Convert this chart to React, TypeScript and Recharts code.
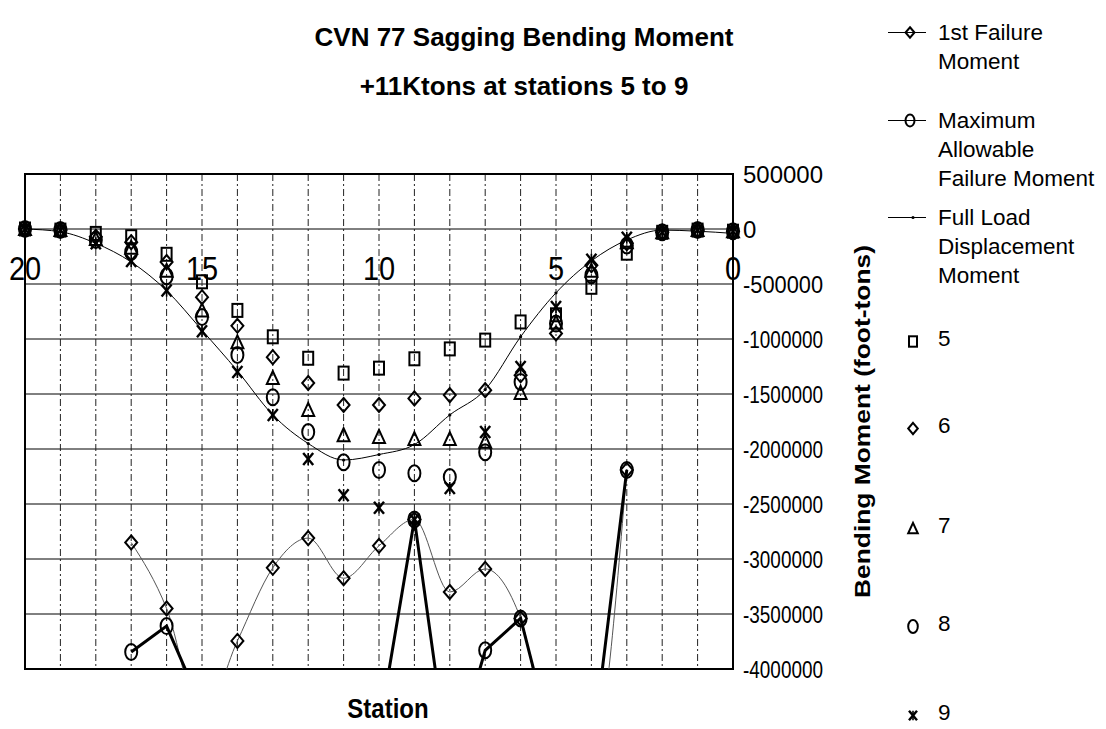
import React from 'react';
import { ComposedChart, Line, XAxis, YAxis, CartesianGrid, ReferenceArea } from 'recharts';

const FONT = "'Liberation Sans', Arial, Helvetica, sans-serif";

// Stations 0..20 (axis drawn reversed: 20 on the left, 0 on the right)
const STATIONS = [0, 1, 2, 3, 4, 5, 6, 7, 8, 9, 10, 11, 12, 13, 14, 15, 16, 17, 18, 19, 20];
const X_LABELED = [0, 5, 10, 15, 20];

const FULL_LOAD = [-40000, -20000, -10000, -100000, -290000, -580000, -980000, -1460000, -1690000, -1960000, -2050000, -2100000, -1950000, -1690000, -1290000, -920000, -560000, -300000, -130000, -25000, 0];
const FIRST_FAILURE = [null, null, null, -2190000, -4800000, -4800000, -3540000, -3090000, -3300000, -2640000, -2880000, -3175000, -2810000, -3080000, -3745000, -4450000, -3450000, -2850000, null, null, null];
const MAX_ALLOWABLE = [null, null, null, -2190000, -4810000, -4800000, -3540000, -3830000, -4950000, -2640000, -4550000, -5000000, -5000000, -5000000, -5000000, -4350000, -3610000, -3845000, null, null, null];
const ST5 = [-20000, -10000, -30000, -220000, -530000, -780000, -845000, -1010000, -1090000, -1180000, -1265000, -1310000, -1175000, -980000, -740000, -480000, -230000, -70000, -40000, -10000, 0];
const ST6 = [-20000, -10000, -30000, -130000, -330000, -950000, -1330000, -1465000, -1510000, -1540000, -1600000, -1600000, -1400000, -1165000, -880000, -620000, -300000, -120000, -70000, -10000, 0];
const ST7 = [-20000, -10000, -30000, -120000, -380000, -850000, -1490000, -1935000, -1910000, -1910000, -1890000, -1875000, -1645000, -1355000, -1030000, -740000, -380000, -170000, -90000, -10000, 0];
const ST8 = [-20000, -10000, -30000, -150000, -420000, -860000, -1390000, -2030000, -2255000, -2220000, -2190000, -2120000, -1845000, -1530000, -1145000, -800000, -430000, -210000, -100000, -10000, 0];
const ST9 = [-20000, -10000, -30000, -80000, -280000, -710000, -1255000, -1845000, -2355000, -2640000, -2535000, -2420000, -2090000, -1690000, -1300000, -930000, -560000, -290000, -130000, -10000, 0];

const Y_TICKS = [500000, 0, -500000, -1000000, -1500000, -2000000, -2500000, -3000000, -3500000, -4000000];
const Y_MAX = 500000;
const Y_MIN = -4000000;

const data = STATIONS.map((s, i) => ({
  station: s,
  fl: FULL_LOAD[i],
  ff: FIRST_FAILURE[i],
  ma: MAX_ALLOWABLE[i],
  s5: ST5[i],
  s6: ST6[i],
  s7: ST7[i],
  s8: ST8[i],
  s9: ST9[i],
}));

// layout
const W = 1090;
const H = 721;
const M_TOP = 166;
const M_LEFT = 17;
const M_RIGHT = 255;
const Y_AXIS_W = 110;
const X_AXIS_H = 60;
const PLOT_H = H - M_TOP - X_AXIS_H;
const ZERO_Y = M_TOP + (PLOT_H * (Y_MAX - 0)) / (Y_MAX - Y_MIN);

function shape(kind: string, cx: number, cy: number, k = 1, key?: string) {
  const sw = 2;
  switch (kind) {
    case 'square':
      return <rect key={key} x={cx - 5 * k} y={cy - 6.5 * k} width={10 * k} height={13 * k} fill="none" stroke="#000" strokeWidth={sw} />;
    case 'diamond':
      return <polygon key={key} points={`${cx},${cy - 7 * k} ${cx + 6 * k},${cy} ${cx},${cy + 7 * k} ${cx - 6 * k},${cy}`} fill="none" stroke="#000" strokeWidth={sw} />;
    case 'triangle':
      return <polygon key={key} points={`${cx},${cy - 7 * k} ${cx + 6 * k},${cy + 6 * k} ${cx - 6 * k},${cy + 6 * k}`} fill="none" stroke="#000" strokeWidth={sw} />;
    case 'circle':
      return <ellipse key={key} cx={cx} cy={cy} rx={6 * k} ry={8 * k} fill="none" stroke="#000" strokeWidth={sw} />;
    case 'star':
      return (
        <g key={key} stroke="#000" strokeWidth={2.4} fill="none">
          <line x1={cx - 5 * k} y1={cy - 6 * k} x2={cx + 5 * k} y2={cy + 6 * k} />
          <line x1={cx + 5 * k} y1={cy - 6 * k} x2={cx - 5 * k} y2={cy + 6 * k} />
          <line x1={cx} y1={cy - 6 * k} x2={cx} y2={cy + 6 * k} strokeWidth={1.6} />
        </g>
      );
    case 'dot':
      return <circle key={key} cx={cx} cy={cy} r={1.6 * k} fill="#000" stroke="none" />;
    default:
      return null;
  }
}

const makeDot = (kind: string) => (props: any) => {
  const { cx, cy, value, index } = props;
  const key = `${kind}-${index}`;
  if (cx == null || cy == null || value == null || Number.isNaN(cy)) return <g key={key} />;
  return <g key={key}>{shape(kind, cx, cy)}</g>;
};

const StationTick = (props: any) => {
  const { x, payload } = props;
  if (!X_LABELED.includes(payload.value)) return <g />;
  const ty = ZERO_Y + 40;
  return (
    <text transform={`translate(${x},${ty}) scale(1,1.12)`} x={0} y={0} textAnchor="middle" dominantBaseline="central" fontSize={29} fontFamily={FONT} fill="#000">
      {payload.value}
    </text>
  );
};

const MomentTick = (props: any) => {
  const { x, y, payload } = props;
  const label = String(payload.value);
  const extra = label.length > 1 ? { textLength: 80, lengthAdjust: 'spacingAndGlyphs' } : {};
  return (
    <text x={x} y={y} dy="0.36em" textAnchor="start" fontSize={24} fontFamily={FONT} fill="#000" {...extra}>
      {label}
    </text>
  );
};

const StationLabel = (props: any) => {
  const vb = props.viewBox || {};
  const cx = vb.x + vb.width / 2 + 9;
  const cy = vb.y + 39;
  return (
    <text transform={`translate(${cx},${cy}) scale(1,1.15)`} x={0} y={0} textAnchor="middle" dominantBaseline="central" fontSize={24} fontWeight="bold" fontFamily={FONT} fill="#000">
      Station
    </text>
  );
};

const MomentLabel = (props: any) => {
  const vb = props.viewBox || {};
  const cx = vb.x + 129;
  const cy = vb.y + vb.height / 2;
  return (
    <text x={cx} y={cy} transform={`rotate(-90 ${cx} ${cy})`} textAnchor="middle" dominantBaseline="central" fontSize={22} fontWeight="bold" fontFamily={FONT} fill="#000" textLength={353} lengthAdjust="spacingAndGlyphs">
      Bending Moment (foot-tons)
    </text>
  );
};

type LegendItem = { kind: string; line?: boolean; lines: string[]; center: number };
const LEGEND_ITEMS: LegendItem[] = [
  { kind: 'diamond', line: true, lines: ['1st Failure', 'Moment'], center: 32 },
  { kind: 'circle', line: true, lines: ['Maximum', 'Allowable', 'Failure Moment'], center: 120 },
  { kind: 'dot', line: true, lines: ['Full Load', 'Displacement', 'Moment'], center: 217 },
  { kind: 'square', lines: ['5'], center: 338 },
  { kind: 'diamond', lines: ['6'], center: 425 },
  { kind: 'triangle', lines: ['7'], center: 525 },
  { kind: 'circle', lines: ['8'], center: 623 },
  { kind: 'star', lines: ['9'], center: 712 },
];

const LH = 29;

function ChartLegend() {
  return (
    <>
      {LEGEND_ITEMS.map((it, i) => {
        const top = it.center - 8 - LH / 2;
        return (
          <div key={i} style={{ position: 'absolute', left: it.line ? 880 : 895, top, display: 'flex', alignItems: 'flex-start' }}>
            <svg width={it.line ? 38 : 20} height={LH} style={{ flex: 'none', overflow: 'visible' }}>
              {it.line ? (
                <>
                  <line x1={0} y1={LH / 2} x2={38} y2={LH / 2} stroke="#000" strokeWidth={1} />
                  {shape(it.kind, it.kind === 'dot' ? 25 : 22, LH / 2, it.kind === 'dot' ? 1 : 0.75)}
                </>
              ) : (
                shape(it.kind, 10, LH / 2 + 3, 0.8)
              )}
            </svg>
            <div style={{ marginLeft: it.line ? 12 : 15, fontFamily: FONT, fontSize: 22.5, lineHeight: `${LH}px`, color: '#000', whiteSpace: 'nowrap' }}>
              {it.lines.map((t, j) => (
                <div key={j}>{t}</div>
              ))}
            </div>
          </div>
        );
      })}
    </>
  );
}

export default function App() {
  return (
    <div style={{ position: 'relative', width: W, height: H, background: '#fff' }}>
      <div
        style={{
          position: 'absolute',
          left: 166,
          width: 700,
          top: 5,
          textAlign: 'center',
          fontFamily: FONT,
          fontWeight: 'bold',
          fontSize: 26,
          lineHeight: '49px',
          color: '#000',
        }}
      >
        <div>CVN 77 Sagging Bending Moment</div>
        <div>+11Ktons at stations 5 to 9</div>
      </div>
      <ComposedChart width={W} height={H} data={data} margin={{ top: M_TOP, right: M_RIGHT, bottom: 0, left: M_LEFT }}>
        <CartesianGrid vertical={false} stroke="#000" strokeWidth={1} />
        <CartesianGrid horizontal={false} stroke="#222" strokeWidth={1} strokeDasharray="7 3 2 3" />
        <XAxis
          dataKey="station"
          type="number"
          domain={[0, 20]}
          reversed
          ticks={STATIONS}
          interval={0}
          tickLine={false}
          axisLine={false}
          height={X_AXIS_H}
          tick={<StationTick />}
          label={<StationLabel />}
        />
        <YAxis
          orientation="right"
          domain={[Y_MIN, Y_MAX]}
          ticks={Y_TICKS}
          allowDataOverflow
          interval={0}
          width={Y_AXIS_W}
          axisLine={false}
          tickLine={false}
          tickMargin={4}
          tick={<MomentTick />}
          label={<MomentLabel />}
        />
        <ReferenceArea x1={0} x2={20} y1={Y_MIN} y2={Y_MAX} fill="none" stroke="#000" strokeWidth={2} ifOverflow="visible" />
        <Line dataKey="fl" type="monotone" stroke="#000" strokeWidth={1} dot={makeDot('dot')} isAnimationActive={false} />
        <Line dataKey="ff" type="monotone" stroke="#555" strokeWidth={1} dot={makeDot('diamond')} isAnimationActive={false} />
        <Line dataKey="ma" type="linear" stroke="#000" strokeWidth={3} dot={makeDot('circle')} isAnimationActive={false} />
        <Line dataKey="s5" stroke="none" dot={makeDot('square')} isAnimationActive={false} />
        <Line dataKey="s6" stroke="none" dot={makeDot('diamond')} isAnimationActive={false} />
        <Line dataKey="s7" stroke="none" dot={makeDot('triangle')} isAnimationActive={false} />
        <Line dataKey="s8" stroke="none" dot={makeDot('circle')} isAnimationActive={false} />
        <Line dataKey="s9" stroke="none" dot={makeDot('star')} isAnimationActive={false} />
      </ComposedChart>
      <ChartLegend />
    </div>
  );
}
